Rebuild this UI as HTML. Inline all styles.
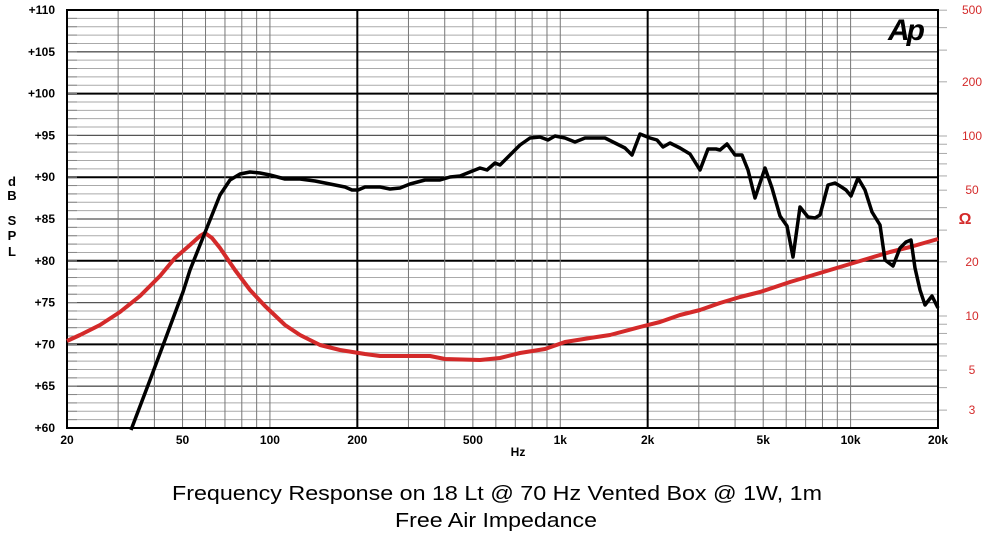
<!DOCTYPE html>
<html><head><meta charset="utf-8"><style>
html,body{margin:0;padding:0;background:#fff;}
svg{display:block;font-family:"Liberation Sans",Arial,sans-serif;}
</style></head><body>
<svg id="s" width="1000" height="535" viewBox="0 0 1000 535" xmlns="http://www.w3.org/2000/svg">
<g id="grid"></g>
<rect x="67" y="10" width="871" height="418" fill="none" stroke="#000" stroke-width="2"/>
<polyline fill="none" stroke="#d42a2a" stroke-width="4" stroke-linejoin="round" points="67,341 80,335 100,325 120,312 140,296 160,276 175,258 190,245 200,236 205,233 212,238 220,248 235,270 250,290 265,306 285,325 300,335 320,345 340,350 365,354 380,356 430,356 445,359 480,360 500,358 520,353 545,349 565,342 590,338 610,335 640,327 660,322 680,315 700,310 720,303 740,297 760,292 790,282 820,273 850,264 870,258 890,252 910,247 938,239"/>
<polyline fill="none" stroke="#000" stroke-width="3.5" stroke-linejoin="round" points="131,430 150,380 165,340 178,305 183,292 190,270 200,245 210,220 220,195 230,180 240,174 250,172 260,173 270,175 285,179 300,179 315,181 330,184 345,187 352,190 358,190 365,187 380,187 390,189 400,188 410,184 425,180 440,180 450,177 460,176 470,172 480,168 487,170 495,163 500,165 510,155 520,145 530,138 540,137 548,140 555,136 565,138 575,142 585,138 605,138 615,143 625,148 632,155 640,134 650,138 657,140 663,147 670,143 680,148 690,154 700,170 708,149 716,149 720,150 727,144 735,155 742,155 748,170 755,198 765,168 772,188 780,216 787,226 793,257 800,207 808,217 815,218 820,215 828,185 835,183 840,186 846,190 851,196 858,178 865,190 872,212 880,225 885,260 893,266 900,248 906,242 911,240 915,268 920,290 925,305 932,296 938,308"/>
<g id="labels" font-size="12" font-weight="bold"></g>
<g font-size="13" font-weight="bold" text-anchor="middle">
<text x="12" y="186">d</text><text x="12" y="200">B</text>
<text x="12" y="225">S</text><text x="12" y="240">P</text><text x="12" y="256">L</text>
</g>
<text x="965" y="224" fill="#d42a2a" font-size="16" font-weight="bold" text-anchor="middle">Ω</text>
<text x="518" y="456" font-size="12" font-weight="bold" text-anchor="middle">Hz</text>
<text x="172" y="500" font-size="20" textLength="650" lengthAdjust="spacingAndGlyphs">Frequency Response on 18 Lt @ 70 Hz Vented Box @ 1W, 1m</text>
<text x="395" y="527" font-size="20" textLength="202" lengthAdjust="spacingAndGlyphs">Free Air Impedance</text>
<text x="905" y="40" font-size="30" font-weight="bold" font-style="italic" text-anchor="middle" letter-spacing="-3">Ap</text>
</svg>
<script>
var NS="http://www.w3.org/2000/svg",g=document.getElementById("grid"),L=document.getElementById("labels");
function ln(x1,y1,x2,y2,c,w){var e=document.createElementNS(NS,"line");e.setAttribute("x1",x1);e.setAttribute("y1",y1);e.setAttribute("x2",x2);e.setAttribute("y2",y2);e.setAttribute("stroke",c);e.setAttribute("stroke-width",w);g.appendChild(e);}
function tx(x,y,t,a,c,fw){var e=document.createElementNS(NS,"text");e.setAttribute("x",x);e.setAttribute("y",y);e.setAttribute("text-anchor",a);if(c)e.setAttribute("fill",c);if(fw)e.setAttribute("font-weight",fw);e.textContent=t;L.appendChild(e);}
var X0=67,W=871,T=10,B=428;
function fx(f){return X0+Math.log10(f/20)/3*W;}
function dy(d){return T+(110-d)/50*(B-T);}
for(var d=60;d<=110;d++){var y=dy(d);
 if(d%10==0)ln(X0,y,938,y,"#000",2);else if(d%5==0)ln(X0,y,938,y,"#555",1.3);else ln(X0,y,938,y,"#aaa",1);
 if(d%5==0)tx(55,y+4,"+"+d,"end");}
for(var e=1;e<=4;e++){var base=Math.pow(10,e);for(var m=1;m<10;m++){var f=base*m;if(f<20||f>20000)continue;var x=fx(f);
 var bold=(f==200||f==2000);ln(x,T,x,B,bold?"#000":"#777",bold?2:1);}}
var xl=[[20,"20"],[50,"50"],[100,"100"],[200,"200"],[500,"500"],[1000,"1k"],[2000,"2k"],[5000,"5k"],[10000,"10k"],[20000,"20k"]];
xl.forEach(function(p){tx(fx(p[0]),444,p[1],"middle");});
function oy(o){return 316-Math.log10(o/10)*180;}
[500,200,100,50,20,10,5,3].forEach(function(o){tx(972,oy(o)+4,""+o,"middle","#d42a2a","normal");});
[3,4,5,6,7,8,9,10,20,30,40,50,60,70,80,90,100,200,300,400,500].forEach(function(o){var y=oy(o);ln(938,y,947,y,"#aaa",1);});
for(var d=60;d<110;d++){ln(X0,dy(d),X0+10,dy(d),"#888",1);}
</script>
</body></html>
